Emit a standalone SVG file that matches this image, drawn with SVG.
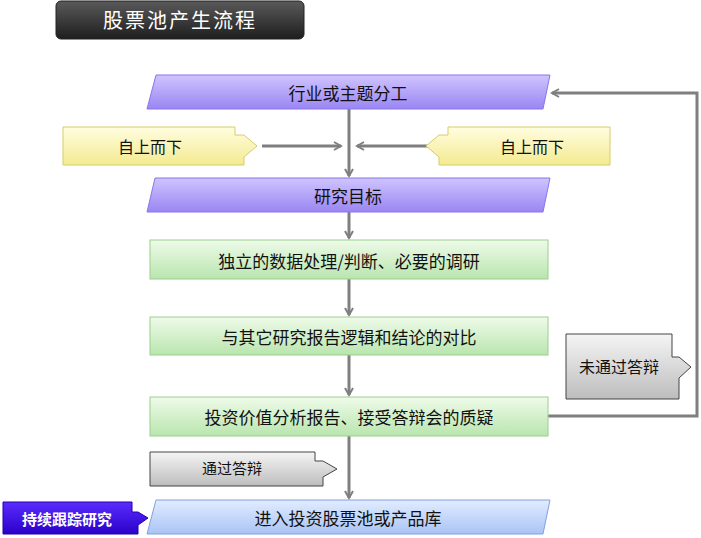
<svg xmlns="http://www.w3.org/2000/svg" width="701" height="538" viewBox="0 0 701 538">
<defs>
<linearGradient id="gt" x1="0" y1="0" x2="0" y2="1"><stop offset="0" stop-color="#5a5a5a"/><stop offset="1" stop-color="#1e1e1e"/></linearGradient>
<linearGradient id="gp" x1="0" y1="0" x2="0" y2="1"><stop offset="0" stop-color="#cfc4ff"/><stop offset="1" stop-color="#9a86f2"/></linearGradient>
<linearGradient id="gg" x1="0" y1="0" x2="0" y2="1"><stop offset="0" stop-color="#eefbe9"/><stop offset="1" stop-color="#b9e5ae"/></linearGradient>
<linearGradient id="gy" x1="0" y1="0" x2="0" y2="1"><stop offset="0" stop-color="#fffde0"/><stop offset="1" stop-color="#f4ea90"/></linearGradient>
<linearGradient id="gs" x1="0" y1="0" x2="0" y2="1"><stop offset="0" stop-color="#f5f5f5"/><stop offset="1" stop-color="#bdbdbd"/></linearGradient>
<linearGradient id="gb" x1="0" y1="0" x2="0" y2="1"><stop offset="0" stop-color="#e2ecff"/><stop offset="1" stop-color="#a9c4f4"/></linearGradient>
<linearGradient id="gv" x1="0" y1="0" x2="0" y2="1"><stop offset="0" stop-color="#5a2cff"/><stop offset="1" stop-color="#2a00c8"/></linearGradient>
<marker id="ah" markerWidth="10" markerHeight="10" refX="8" refY="5" orient="auto" markerUnits="userSpaceOnUse"><path d="M1,1 L8,5 L1,9" fill="none" stroke="#7f7f7f" stroke-width="2"/></marker>
</defs>
<style>
text{font-family:"Noto Sans CJK SC","Liberation Sans",sans-serif;font-size:17px;fill:#111;text-anchor:middle;dominant-baseline:central}
.c{stroke:#7f7f7f;stroke-width:3;fill:none}
</style>
<g id="title"><rect x="56" y="1" width="248" height="38" rx="5" fill="url(#gt)" stroke="#222"/><text x="180" y="19" style="fill:#fff;font-size:20px;letter-spacing:2px">股票池产生流程</text></g>
<g id="connectors">
<line class="c" x1="349" y1="109" x2="349" y2="176" marker-end="url(#ah)"/>
<line class="c" x1="262" y1="146" x2="341" y2="146" marker-end="url(#ah)"/>
<line class="c" x1="433" y1="146" x2="357" y2="146" marker-end="url(#ah)"/>
<line class="c" x1="349" y1="212" x2="349" y2="238" marker-end="url(#ah)"/>
<line class="c" x1="349" y1="279" x2="349" y2="315" marker-end="url(#ah)"/>
<line class="c" x1="349" y1="355" x2="349" y2="395" marker-end="url(#ah)"/>
<line class="c" x1="349" y1="436" x2="349" y2="498" marker-end="url(#ah)"/>
<polyline class="c" points="548,416 697,416 697,93 552,93" marker-end="url(#ah)"/>
</g>
<g id="n1"><polygon points="156,75 550,75 543,109 147,109" fill="url(#gp)" stroke="#8a74ee"/><text x="348" y="92">行业或主题分工</text></g>
<g id="y1"><path d="M63,127 H235 V135 H244 L257,146 L244,157 V165 H63 Z" fill="url(#gy)" stroke="#d8cc6a"/><text x="150" y="146" style="font-size:16px">自上而下</text></g>
<g id="y2"><path d="M610,127 H448 V135 H439 L426,146 L439,157 V165 H610 Z" fill="url(#gy)" stroke="#d8cc6a"/><text x="532" y="146" style="font-size:16px">自上而下</text></g>
<g id="n2"><polygon points="155,178 550,178 543,212 147,212" fill="url(#gp)" stroke="#8a74ee"/><text x="348" y="195">研究目标</text></g>
<g id="n3"><rect x="150" y="240" width="398" height="39" fill="url(#gg)" stroke="#9ccf8e"/><text x="349" y="260">独立的数据处理/判断、必要的调研</text></g>
<g id="n4"><rect x="150" y="317" width="398" height="38" fill="url(#gg)" stroke="#9ccf8e"/><text x="349" y="336">与其它研究报告逻辑和结论的对比</text></g>
<g id="n5"><rect x="150" y="397" width="398" height="39" fill="url(#gg)" stroke="#9ccf8e"/><text x="349" y="416">投资价值分析报告、接受答辩会的质疑</text></g>
<g id="g1"><path d="M566,334 H672 V357 H679 L691,367 L679,378 V399 H566 Z" fill="url(#gs)" stroke="#444"/><text x="619" y="366" style="font-size:16px">未通过答辩</text></g>
<g id="g2"><path d="M150,452 H315 V461 H323 L337,469 L323,477 V486 H150 Z" fill="url(#gs)" stroke="#444"/><text x="232" y="467" style="font-size:15px">通过答辩</text></g>
<g id="n6"><polygon points="156,500 550,500 543,534 147,534" fill="url(#gb)" stroke="#7fa0e0"/><text x="348" y="517">进入投资股票池或产品库</text></g>
<g id="v1"><path d="M3,502 H132 V512 H138 L148,518 L138,525 V534 H3 Z" fill="url(#gv)" stroke="#2200aa"/><text x="67" y="518" style="fill:#fff;font-weight:bold;font-size:15px">持续跟踪研究</text></g>
</svg>
